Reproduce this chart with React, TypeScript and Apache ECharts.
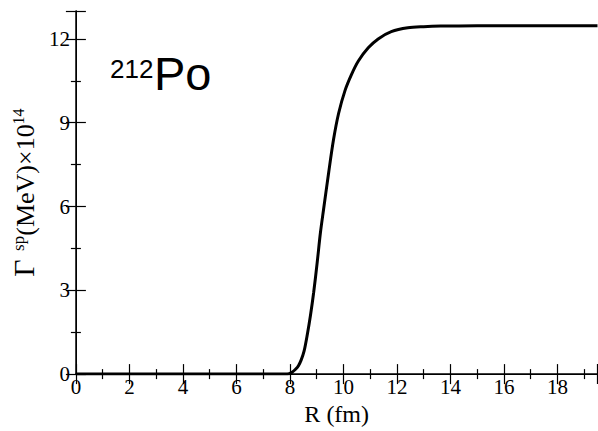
import React, { useEffect, useRef } from "react";
import * as echarts from "echarts";

const rValues = [0, 2, 4, 6, 7, 7.8, 7.97, 8.1, 8.22, 8.32, 8.42, 8.53, 8.65, 8.77, 8.89, 9.02, 9.14, 9.26, 9.45, 9.63, 9.82, 10.06, 10.31, 10.56, 10.93, 11.3, 11.79, 12.41, 13, 13.64, 15, 17, 19.5];
const gammaValues = [0, 0, 0, 0, 0, 0, 0.01, 0.08, 0.18, 0.3, 0.5, 0.82, 1.41, 2.11, 2.93, 3.99, 5.05, 5.9, 7.22, 8.39, 9.33, 10.15, 10.74, 11.21, 11.68, 12.0, 12.26, 12.4, 12.44, 12.46, 12.47, 12.47, 12.47];
const xTicks = { min: 0, max: 19.5, interval: 2 };
const yTicks = { min: 0, max: 13, interval: 3 };

const SERIF = "Liberation Serif";
const SANS = "Liberation Sans";

export default function App() {
  const ref = useRef<HTMLDivElement>(null);
  useEffect(() => {
    if (!ref.current) return;
    const chart = echarts.init(ref.current, null, { renderer: "svg" });
    const axisLine = { show: true, lineStyle: { color: "#000", width: 1.5 } };
    const tick = { show: true, inside: true, length: 10, lineStyle: { color: "#000", width: 1.2 } };
    const minor = { show: true, splitNumber: 2, length: 5, lineStyle: { color: "#000", width: 1.2 } };
    const label = { color: "#000", fontFamily: SERIF, fontSize: 21 };
    chart.setOption({
      animation: false,
      backgroundColor: "#fff",
      textStyle: { fontFamily: SERIF },
      grid: { left: 71, top: 11, width: 526.5, height: 369, containLabel: false },
      xAxis: [
        {
          type: "value",
          position: "bottom",
          min: xTicks.min,
          max: xTicks.max,
          interval: xTicks.interval,
          axisLine,
          axisTick: tick,
          minorTick: minor,
          splitLine: { show: false },
          axisLabel: { ...label, margin: 2, showMaxLabel: false },
          name: "R (fm)",
          nameLocation: "middle",
          nameGap: 17,
          nameTextStyle: { color: "#000", fontFamily: SERIF, fontSize: 24, verticalAlign: "top" },
        },
        {
          type: "value",
          position: "top",
          min: xTicks.min,
          max: xTicks.max,
          interval: xTicks.interval,
          axisLine: { show: true, lineStyle: { color: "#000", width: 1 } },
          axisTick: tick,
          minorTick: minor,
          splitLine: { show: false },
          axisLabel: { show: false },
        },
      ],
      yAxis: [
        {
          type: "value",
          position: "left",
          min: yTicks.min,
          max: yTicks.max,
          interval: yTicks.interval,
          axisLine,
          axisTick: tick,
          minorTick: minor,
          splitLine: { show: false },
          axisLabel: { ...label, margin: 6, showMaxLabel: false },
          name: "{g|Γ}{s|  sp}{m|(MeV)×10}{t|14}",
          nameLocation: "middle",
          nameGap: 30,
          nameRotate: 90,
          nameTextStyle: {
            color: "#000",
            fontFamily: SERIF,
            rich: {
              g: { fontFamily: SERIF, fontSize: 30, color: "#000", verticalAlign: "bottom", lineHeight: 28 },
              s: { fontFamily: SERIF, fontSize: 17, color: "#000", verticalAlign: "top", lineHeight: 17 },
              m: { fontFamily: SERIF, fontSize: 26, color: "#000", verticalAlign: "bottom", lineHeight: 26 },
              t: { fontFamily: SERIF, fontSize: 16, color: "#000", verticalAlign: "top", lineHeight: 14 },
            },
          },
        },
        {
          type: "value",
          position: "right",
          min: yTicks.min,
          max: yTicks.max,
          interval: yTicks.interval,
          axisLine: { show: true, lineStyle: { color: "#000", width: 1 } },
          axisTick: tick,
          minorTick: minor,
          splitLine: { show: false },
          axisLabel: { show: false },
        },
      ],
      series: [
        {
          type: "line",
          data: rValues.map((r, i) => [r, gammaValues[i]]),
          xAxisIndex: 0,
          yAxisIndex: 0,
          showSymbol: false,
          smooth: 0.3,
          lineStyle: { color: "#000", width: 3 },
          clip: true,
        },
      ],
      graphic: [
        {
          type: "text",
          left: 110,
          top: 56,
          style: { text: "212", fontFamily: SANS, fontSize: 26, fill: "#000" },
        },
        {
          type: "text",
          left: 154,
          top: 50,
          style: { text: "Po", fontFamily: SANS, fontSize: 47, fill: "#000" },
        },
      ],
    });
    return () => chart.dispose();
  }, []);
  return <div ref={ref} style={{ width: 598, height: 431, position: "absolute", left: 0, top: 0 }} />;
}
